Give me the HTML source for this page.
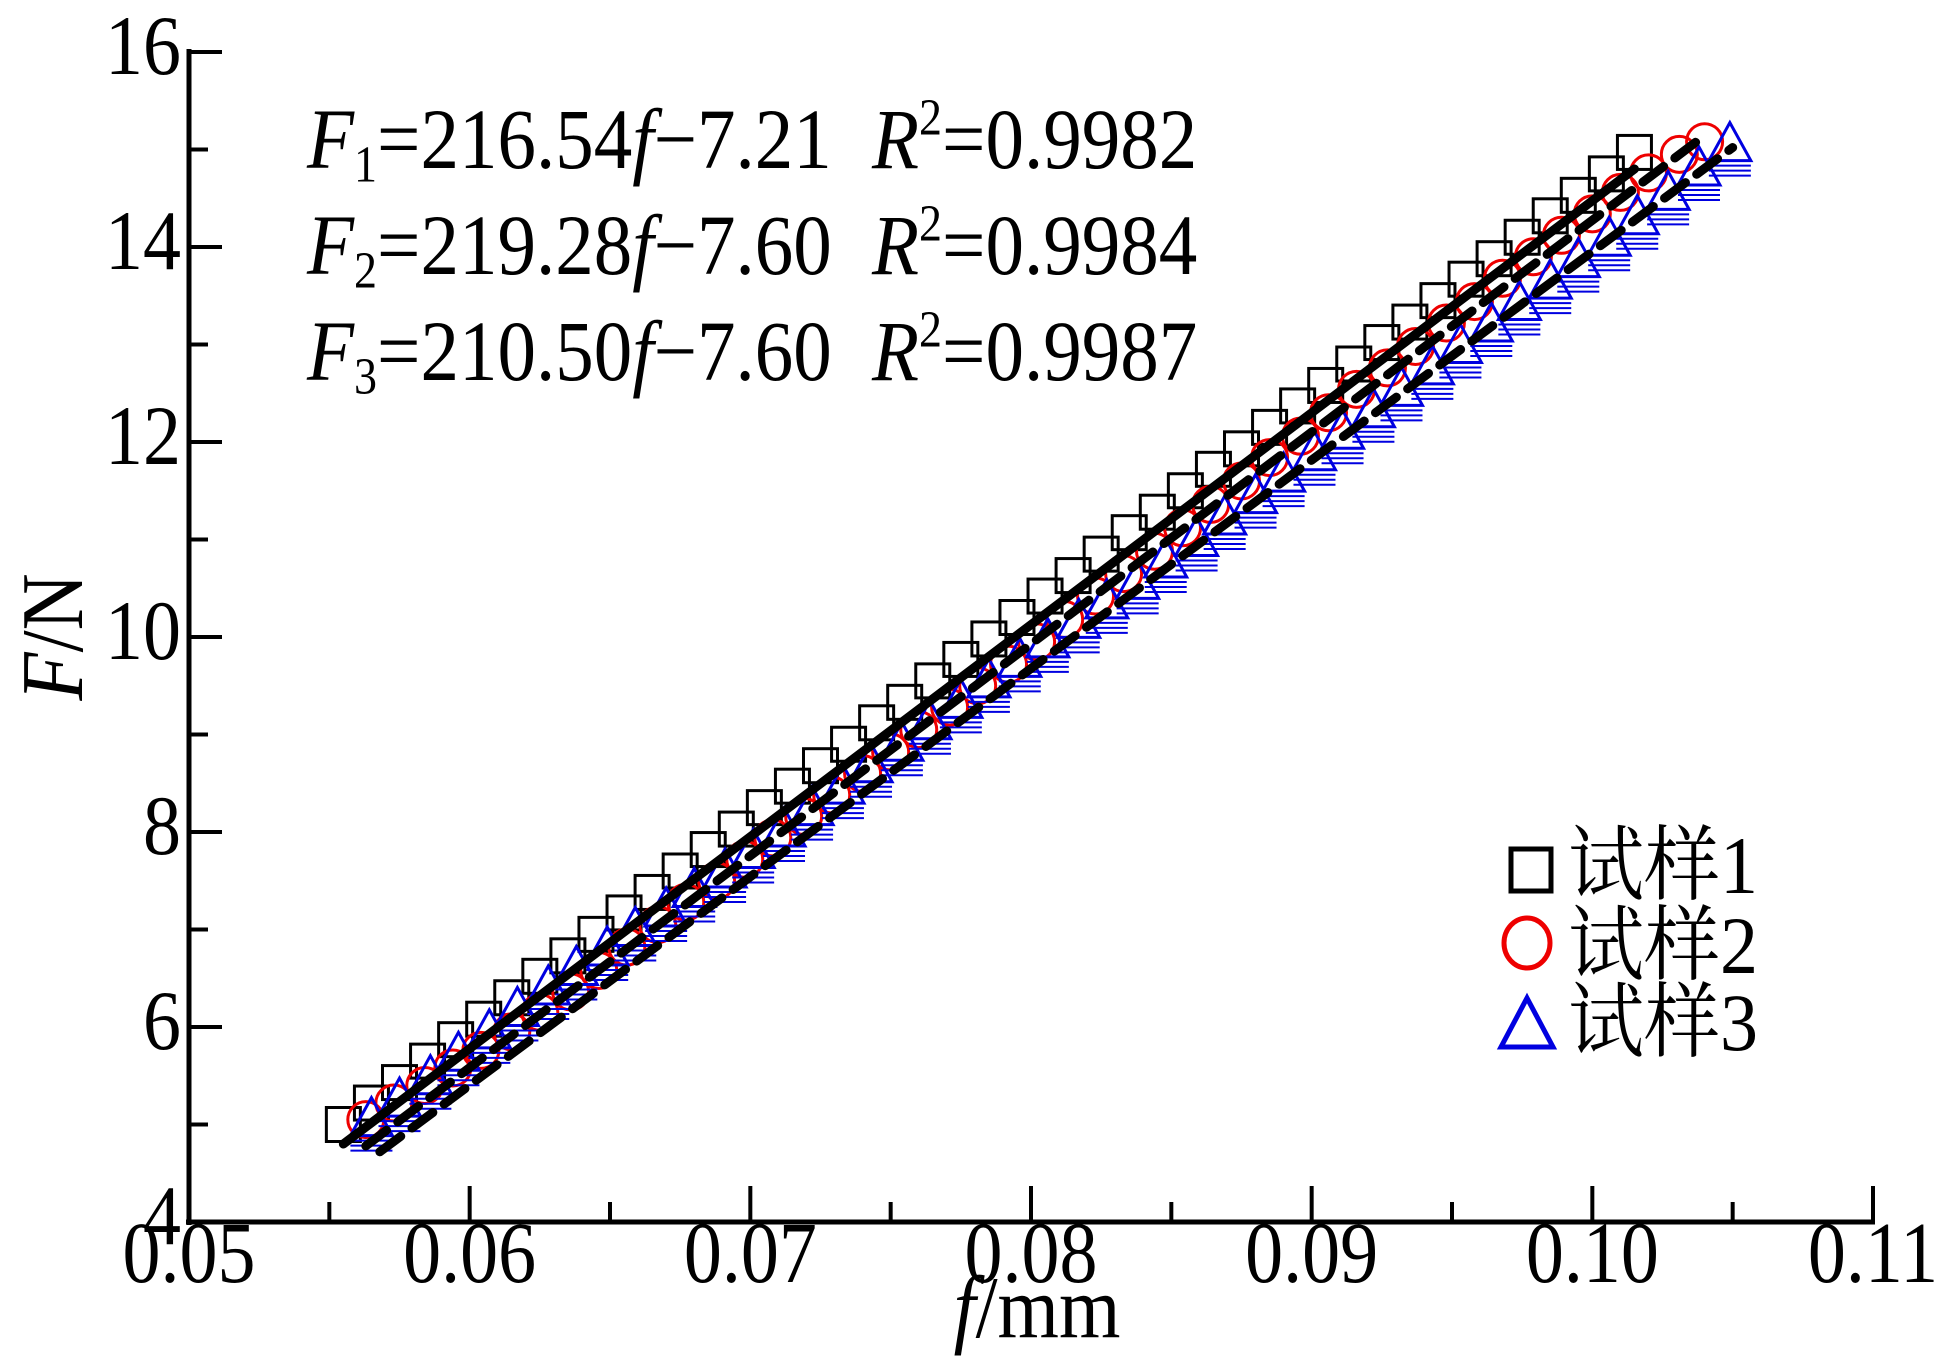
<!DOCTYPE html>
<html><head><meta charset="utf-8">
<style>
html,body{margin:0;padding:0;background:#fff;}
svg{display:block;}
text{font-family:"Liberation Serif","Noto Serif CJK SC",serif;fill:#000;}
</style></head>
<body>
<svg id="chart" width="1940" height="1360" viewBox="0 0 1940 1360" xmlns="http://www.w3.org/2000/svg">
<g id="marks"></g>
<g id="axes"></g>
<g font-size="77">
<text transform="translate(307,168) scale(1,1.12)"><tspan font-style="italic">F</tspan><tspan font-size="46" dy="12">1</tspan><tspan dy="-12">=216.54</tspan><tspan font-style="italic">f</tspan>−7.21</text>
<text transform="translate(872,168) scale(1,1.12)"><tspan font-style="italic">R</tspan><tspan font-size="46" dy="-30">2</tspan><tspan dy="30">=0.9982</tspan></text>
<text transform="translate(307,274) scale(1,1.12)"><tspan font-style="italic">F</tspan><tspan font-size="46" dy="12">2</tspan><tspan dy="-12">=219.28</tspan><tspan font-style="italic">f</tspan>−7.60</text>
<text transform="translate(872,274) scale(1,1.12)"><tspan font-style="italic">R</tspan><tspan font-size="46" dy="-30">2</tspan><tspan dy="30">=0.9984</tspan></text>
<text transform="translate(307,380) scale(1,1.12)"><tspan font-style="italic">F</tspan><tspan font-size="46" dy="12">3</tspan><tspan dy="-12">=210.50</tspan><tspan font-style="italic">f</tspan>−7.60</text>
<text transform="translate(872,380) scale(1,1.12)"><tspan font-style="italic">R</tspan><tspan font-size="46" dy="-30">2</tspan><tspan dy="30">=0.9987</tspan></text>
</g>
<g font-size="76">
<rect x="1511" y="849" width="40" height="42" fill="none" stroke="#000" stroke-width="5"/>
<text transform="translate(1568,893) scale(1,1.08)">试样1</text>
<ellipse cx="1527" cy="943" rx="23" ry="25" fill="none" stroke="#e00" stroke-width="5"/>
<text transform="translate(1568,973) scale(1,1.08)">试样2</text>
<polygon points="1527,998 1553,1047 1501,1047" fill="none" stroke="#0000e0" stroke-width="5"/>
<text transform="translate(1568,1050) scale(1,1.08)">试样3</text>
</g>
<text transform="translate(1037,1337) scale(1,1.12)" font-size="79" text-anchor="middle"><tspan font-style="italic">f</tspan>/mm</text>
<text transform="translate(82,637) rotate(-90) scale(1,1.12)" font-size="79" text-anchor="middle"><tspan font-style="italic">F</tspan>/N</text>
</svg>
<script>
const xTicks=[0.05,0.06,0.07,0.08,0.09,0.10,0.11];
const xTickLabels=["0.05","0.06","0.07","0.08","0.09","0.10","0.11"];
const yTicks=[4,6,8,10,12,14,16];
const yTickLabels=["4","6","8","10","12","14","16"];
const f1=[0.0555,0.0565,0.0575,0.0585,0.0595,0.0605,0.0615,0.0625,0.0635,0.0645,0.0655,0.0665,0.0675,0.0685,0.0695,0.0705,0.0715,0.0725,0.0735,0.0745,0.0755,0.0765,0.0775,0.0785,0.0795,0.0805,0.0815,0.0825,0.0835,0.0845,0.0855,0.0865,0.0875,0.0885,0.0895,0.0905,0.0915,0.0925,0.0935,0.0945,0.0955,0.0965,0.0975,0.0985,0.0995,0.1005,0.1015];
const F1=[5.00,5.22,5.43,5.65,5.87,6.08,6.30,6.52,6.73,6.95,7.17,7.38,7.60,7.82,8.03,8.25,8.47,8.68,8.90,9.12,9.33,9.55,9.77,9.98,10.20,10.42,10.63,10.85,11.07,11.28,11.50,11.72,11.93,12.15,12.37,12.58,12.80,13.02,13.23,13.45,13.67,13.88,14.10,14.32,14.53,14.75,14.97];
const f2=[0.0563,0.0573,0.0584,0.0594,0.0604,0.0615,0.0625,0.0636,0.0646,0.0656,0.0667,0.0677,0.0688,0.0698,0.0708,0.0719,0.0729,0.0740,0.0750,0.0760,0.0771,0.0781,0.0792,0.0802,0.0812,0.0823,0.0833,0.0844,0.0854,0.0864,0.0875,0.0885,0.0896,0.0906,0.0916,0.0927,0.0937,0.0948,0.0958,0.0968,0.0979,0.0989,0.1000,0.1010,0.1020,0.1031,0.1040];
const F2=[5.05,5.22,5.40,5.58,5.76,5.95,6.15,6.36,6.58,6.82,7.05,7.28,7.50,7.72,7.94,8.16,8.38,8.60,8.82,9.05,9.28,9.50,9.72,9.95,10.18,10.42,10.65,10.88,11.12,11.36,11.60,11.84,12.06,12.30,12.54,12.76,12.98,13.22,13.44,13.68,13.90,14.12,14.34,14.56,14.76,14.95,15.08];
const f3=[0.0565,0.0575,0.0586,0.0596,0.0607,0.0617,0.0628,0.0638,0.0649,0.0659,0.0670,0.0680,0.0691,0.0701,0.0712,0.0722,0.0733,0.0743,0.0754,0.0764,0.0775,0.0785,0.0796,0.0806,0.0817,0.0827,0.0838,0.0848,0.0859,0.0869,0.0880,0.0890,0.0901,0.0911,0.0922,0.0932,0.0943,0.0953,0.0964,0.0974,0.0985,0.0995,0.1006,0.1016,0.1027,0.1038,0.1049];
const F3=[5.05,5.25,5.48,5.72,5.95,6.18,6.40,6.60,6.80,7.00,7.20,7.40,7.60,7.80,8.02,8.24,8.46,8.68,8.90,9.12,9.34,9.55,9.76,9.96,10.16,10.36,10.56,10.78,11.00,11.22,11.44,11.66,11.88,12.10,12.32,12.54,12.76,12.98,13.20,13.42,13.64,13.86,14.08,14.30,14.55,14.80,15.05];
const fitF1=[4.80,14.80];const fitX1=[0.0555,0.1015];
const fitF2=[4.78,15.10];const fitX2=[0.0563,0.1038];
const fitF3=[4.72,15.02];const fitX3=[0.0568,0.1050];

const NS="http://www.w3.org/2000/svg";
const X0=189,X1=1873,Y0=1222,Y1=52;
function sx(v){return X0+(v-0.05)/(0.11-0.05)*(X1-X0);}
function sy(v){return Y0-(v-4)/(16-4)*(Y0-Y1);}
function mk(tag,attrs,parent){const e=document.createElementNS(NS,tag);for(const k in attrs)e.setAttribute(k,attrs[k]);parent.appendChild(e);return e;}
const marks=document.getElementById('marks');
const axes=document.getElementById('axes');

for(let i=0;i<f1.length;i++){
  const e=mk('rect',{x:sx(f1[i])-17,y:sy(F1[i])-17,width:34,height:34,fill:'none',stroke:'#000','stroke-width':3},marks);
  
  
}
for(let i=0;i<f2.length;i++){
  const e=mk('circle',{cx:sx(f2[i]),cy:sy(F2[i]),r:18,fill:'none',stroke:'#e00','stroke-width':3},marks);
  
  
}
for(let i=0;i<f3.length;i++){
  const cx=sx(f3[i]),cy=sy(F3[i]);
  const e=mk('polygon',{points:`${cx},${cy-22} ${cx+21},${cy+16} ${cx-21},${cy+16}`,fill:'none',stroke:'#0000e0','stroke-width':3},marks);
  
  
  for(let k=1;k<=3;k++){
    const l=mk('line',{x1:cx-21,x2:cx+21,y1:cy+16+k*5,y2:cy+16+k*5,stroke:'#0000e0','stroke-width':2},marks);
    
    
  }
}
const fits=[[fitX1,fitF1,null,'fit-line-1'],[fitX2,fitF2,'26 14','fit-line-2'],[fitX3,fitF3,'26 14','fit-line-3']];
fits.forEach(([xs,ys,dash,name])=>{
  const a={x1:sx(xs[0]),y1:sy(ys[0]),x2:sx(xs[1]),y2:sy(ys[1]),stroke:'#000','stroke-width':9,'stroke-linecap':'round'};
  if(dash)a['stroke-dasharray']=dash;
  const e=mk('line',a,marks);
  
  
});

let e=mk('line',{x1:X0,y1:Y1-3,x2:X0,y2:Y0+3,stroke:'#000','stroke-width':5},axes);


e=mk('line',{x1:X0-3,y1:Y0,x2:X1+2,y2:Y0,stroke:'#000','stroke-width':5},axes);



for(let v=4;v<=16;v++){
  const major=v%2===0;
  const t=mk('line',{x1:X0,x2:X0+(major?33:19),y1:sy(v),y2:sy(v),stroke:'#000','stroke-width':4},axes);
  
  
}
yTicks.forEach((v,i)=>{
  const t=mk('text',{transform:`translate(181,${sy(v)+22}) scale(1,1.12)`,'font-size':76,'text-anchor':'end'},axes);
  t.textContent=yTickLabels[i];
  
  
});
for(let k=0;k<=12;k++){
  const v=0.05+k*0.005;const major=k%2===0;
  const t=mk('line',{x1:sx(v),x2:sx(v),y1:Y0,y2:Y0-(major?36:20),stroke:'#000','stroke-width':4},axes);
  
  
}
xTicks.forEach((v,i)=>{
  const t=mk('text',{transform:`translate(${sx(v)},1282) scale(1,1.14)`,'font-size':76,'text-anchor':'middle'},axes);
  t.textContent=xTickLabels[i];
  
  
});
</script>
</body></html>
